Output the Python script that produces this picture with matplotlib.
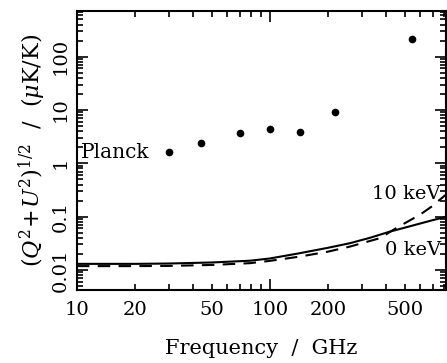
import numpy as np
import matplotlib
matplotlib.use('Agg')
import matplotlib.pyplot as plt
from matplotlib.ticker import FixedLocator, FixedFormatter, NullFormatter

plt.rcParams['font.family'] = 'DejaVu Serif'
plt.rcParams['mathtext.fontset'] = 'dejavuserif'

# Planck channels
planck_freq = [30, 44, 70, 100, 143, 217, 545]
planck_val = [1.61, 2.45, 3.7, 4.35, 3.8, 9.3, 216]

# 0 keV curve (solid)
freq0 = [10, 20, 30, 50, 79, 100, 143, 200, 260, 330, 419, 500, 600, 700, 807, 820]
val0 = [0.0130, 0.0130, 0.0132, 0.0138, 0.0149, 0.0164, 0.0206, 0.026, 0.0317, 0.040, 0.0523, 0.062, 0.074, 0.086, 0.0975, 0.099]

# 10 keV curve (dashed)
freq10 = [10, 20, 30, 50, 79, 100, 143, 200, 260, 372, 435, 500, 599, 700, 759, 820]
val10 = [0.0118, 0.0118, 0.0119, 0.0124, 0.0134, 0.0148, 0.0178, 0.022, 0.0274, 0.0394, 0.056, 0.075, 0.108, 0.16, 0.206, 0.26]

fig = plt.figure(figsize=(4.47, 3.63), dpi=100)
ax = fig.add_axes([0.172, 0.201, 0.826, 0.769])

ax.plot(freq0, val0, color='black', lw=1.5)
ax.plot(freq10, val10, color='black', lw=1.5, dashes=(6, 4))
ax.plot(planck_freq, planck_val, 'o', color='black', ms=4.5)

ax.set_xscale('log')
ax.set_yscale('log')
ax.set_xlim(10, 820)
ax.set_ylim(0.0042, 720)

ax.xaxis.set_major_locator(FixedLocator([10, 100]))
ax.xaxis.set_major_formatter(FixedFormatter(['10', '100']))
xminor = [20, 30, 40, 50, 60, 70, 80, 90, 200, 300, 400, 500, 600, 700, 800]
xminor_lab = ['20', '', '', '50', '', '', '', '', '200', '', '', '500', '', '', '']
ax.xaxis.set_minor_locator(FixedLocator(xminor))
ax.xaxis.set_minor_formatter(FixedFormatter(xminor_lab))

ax.yaxis.set_major_locator(FixedLocator([0.01, 0.1, 1, 10, 100]))
ax.yaxis.set_major_formatter(FixedFormatter(['0.01', '0.1', '1', '10', '100']))
ax.yaxis.set_minor_locator(matplotlib.ticker.LogLocator(subs=np.arange(2, 10), numticks=20))
ax.yaxis.set_minor_formatter(NullFormatter())

ax.tick_params(which='both', direction='in', top=True, right=True, width=1.2, labelsize=14)
ax.tick_params(which='major', length=8)
ax.tick_params(which='minor', length=4)
ax.tick_params(axis='x', which='both', pad=8)
ax.tick_params(axis='y', which='both', pad=5)
for lab in ax.get_yticklabels():
    lab.set_rotation(90)
    lab.set_va('center')
for s in ax.spines.values():
    s.set_linewidth(1.5)

ax.text(10.5, 1.62, 'Planck', fontsize=14.5, ha='left', va='center')
ax.text(770, 0.27, '10 keV', fontsize=14, ha='right', va='center')
ax.text(770, 0.0235, '0 keV', fontsize=14, ha='right', va='center')

ax.set_xlabel('Frequency  /  GHz', fontsize=15, labelpad=14)
ax.set_ylabel(r'$(Q^2\!+\!U^2)^{1/2}$  /  ($\mu$K/K)', fontsize=16, labelpad=3)

fig.savefig('out.png', dpi=100)
